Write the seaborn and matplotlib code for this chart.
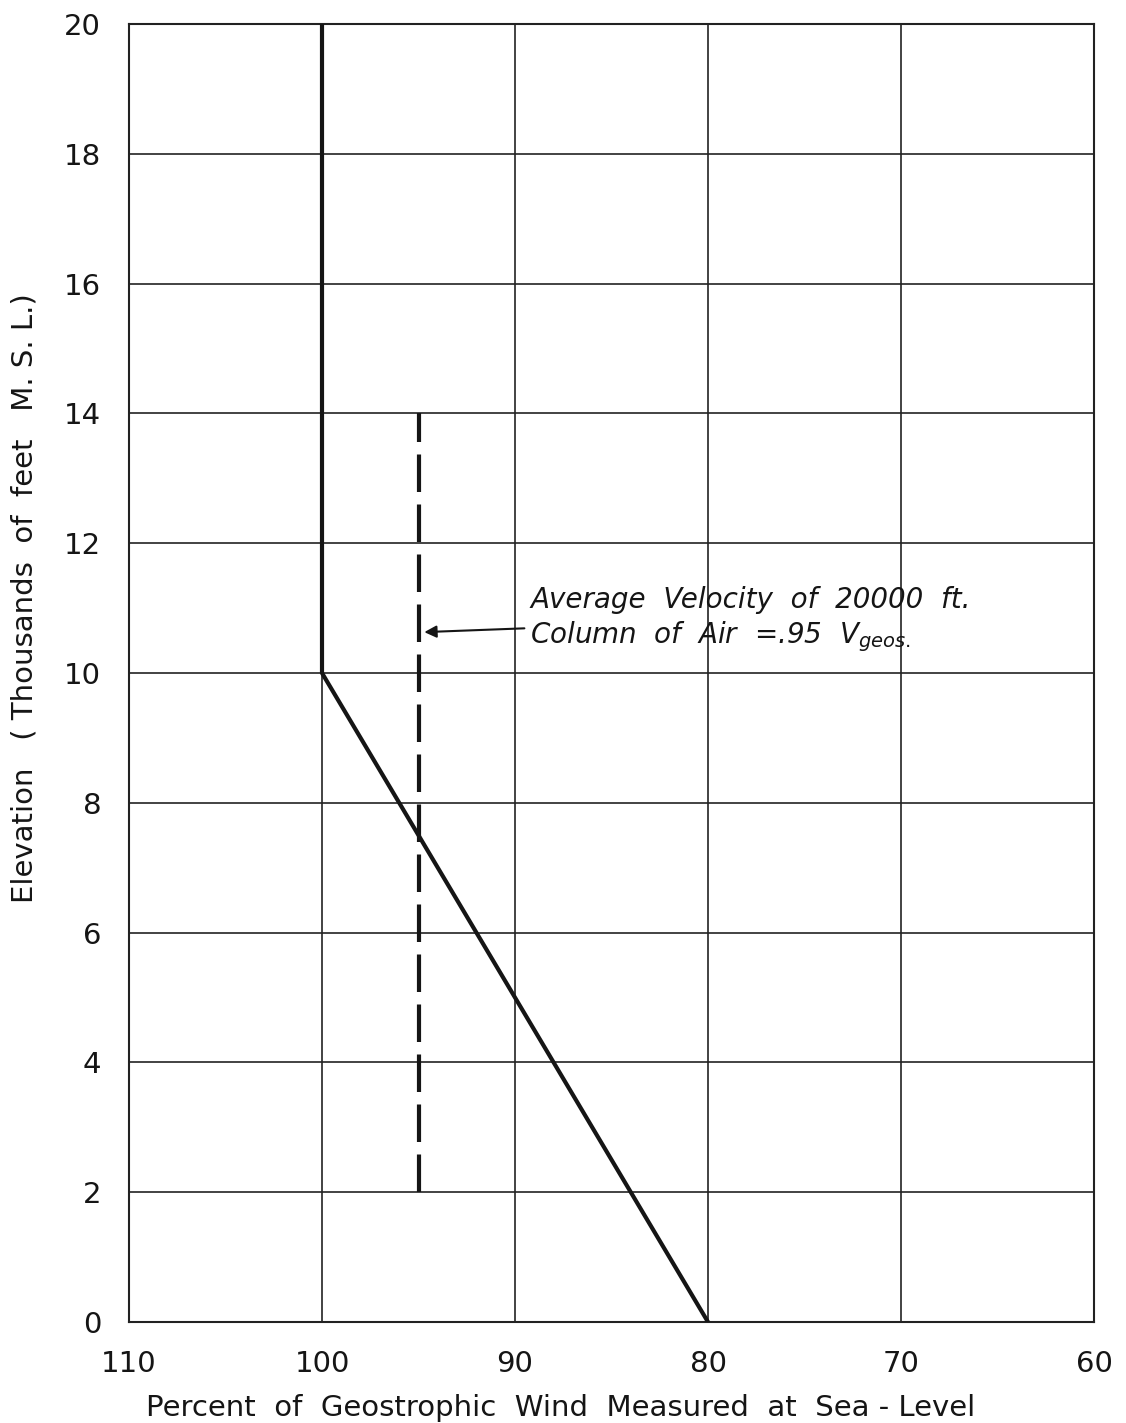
import matplotlib
matplotlib.use("Agg")
import matplotlib.pyplot as plt
import seaborn as sns
import pandas as pd

# Data
profile_pct = [80, 100, 100]
profile_elev = [0, 10, 20]
avg_pct = [95, 95]
avg_elev = [2, 14]
x_ticks = [110, 100, 90, 80, 70, 60]
y_ticks = [0, 2, 4, 6, 8, 10, 12, 14, 16, 18, 20]

sns.set_style("white")
plt.rcParams['font.family'] = ['DejaVu Sans']
ink = "#151515"

fig = plt.figure(figsize=(11.26, 14.23), dpi=100)
ax = fig.add_axes([129/1126, 1 - 1322/1423, (1094-129)/1126, (1322-24)/1423])

df_prof = pd.DataFrame({"pct": profile_pct, "elev": profile_elev})
df_avg = pd.DataFrame({"pct": avg_pct, "elev": avg_elev})

sns.lineplot(data=df_prof, x="pct", y="elev", sort=False, estimator=None,
             color=ink, linewidth=3, ax=ax, zorder=3)
sns.lineplot(data=df_avg, x="pct", y="elev", sort=False, estimator=None,
             color=ink, linewidth=3, ax=ax, zorder=3)
ax.lines[-1].set_dashes([9, 3])

ax.set_xlim(110, 60)
ax.set_ylim(0, 20)
ax.set_xticks(x_ticks)
ax.set_yticks(y_ticks)
ax.set_xticklabels([str(v) for v in x_ticks], fontsize=21, color=ink)
ax.set_yticklabels([str(v) for v in y_ticks], fontsize=21, color=ink)
ax.tick_params(axis='x', length=0, pad=20)
ax.tick_params(axis='y', length=0, pad=20)
ax.grid(True, color="#222222", linewidth=1.2)
for s in ax.spines.values():
    s.set_color("#222222")
    s.set_linewidth(1.5)

ax.set_xlabel("Percent  of  Geostrophic  Wind  Measured  at  Sea - Level",
              fontsize=21, labelpad=12, color=ink)
ax.set_ylabel("Elevation   ( Thousands  of  feet   M. S. L.)",
              fontsize=21, labelpad=18, color=ink)
ax.xaxis.label.set_x(0.447)
ax.yaxis.label.set_y(0.558)

ax.annotate("Average  Velocity  of  20000  ft.\nColumn  of  Air  =.95  $V_{geos.}$",
            xy=(94.7, 10.63), xytext=(89.2, 10.82),
            fontsize=20, style='italic', va='center', ha='left', linespacing=1.25,
            color=ink,
            arrowprops=dict(arrowstyle='-|>', color=ink, lw=1.5,
                            mutation_scale=18, shrinkA=2, shrinkB=0))

fig.savefig("out.png", dpi=100, facecolor="white")
